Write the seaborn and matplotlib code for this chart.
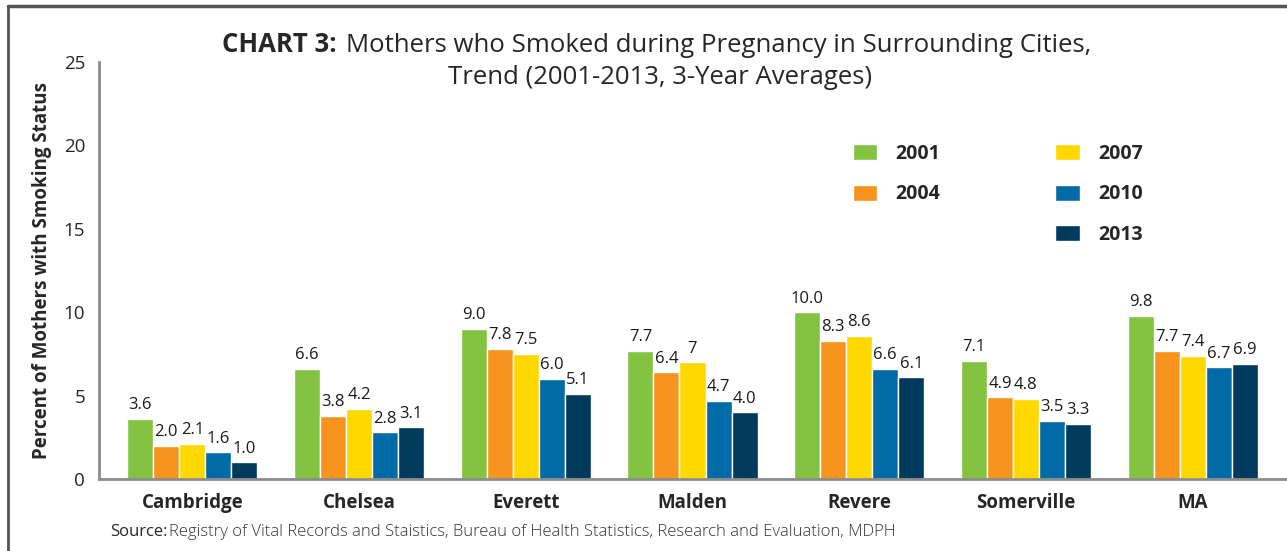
import pandas as pd
import matplotlib.pyplot as plt
import seaborn as sns
from matplotlib.patches import Patch
from matplotlib.lines import Line2D

# Données
cities = ["Cambridge", "Chelsea", "Everett", "Malden", "Revere", "Somerville", "MA"]
years = ["2001", "2004", "2007", "2010", "2013"]
labels_2001 = ["3.6", "6.6", "9.0", "7.7", "10.0", "7.1", "9.8"]
labels_2004 = ["2.0", "3.8", "7.8", "6.4", "8.3", "4.9", "7.7"]
labels_2007 = ["2.1", "4.2", "7.5", "7", "8.6", "4.8", "7.4"]
labels_2010 = ["1.6", "2.8", "6.0", "4.7", "6.6", "3.5", "6.7"]
labels_2013 = ["1.0", "3.1", "5.1", "4.0", "6.1", "3.3", "6.9"]
colors = ["#84C341", "#F7941E", "#FFD800", "#006BA6", "#003A5D"]

series_labels = [labels_2001, labels_2004, labels_2007, labels_2010, labels_2013]
rows = []
for yr, labs in zip(years, series_labels):
    for c, v in zip(cities, labs):
        rows.append({"City": c, "Year": yr, "Value": float(v)})
df = pd.DataFrame(rows)

sns.set_style("white")
plt.rcParams['font.family'] = ['Open Sans', 'DejaVu Sans']

W, H = 1287, 551
fig = plt.figure(figsize=(W / 100, H / 100), dpi=100)
ax = fig.add_axes([99 / W, (H - 479) / H, (1286 - 99) / W, (479 - 62) / H])

sns.barplot(data=df, x="City", y="Value", hue="Year", palette=colors,
            width=0.78, gap=0, saturation=1, ax=ax, legend=True)

for cont, labs in zip(ax.containers, series_labels):
    ax.bar_label(cont, labels=labs, padding=4, fontsize=12, color="#1a1a1a")

ax.set_ylim(0, 25)
ax.set_xlim(-0.56, 6.56)
ax.set_yticks([0, 5, 10, 15, 20, 25])
ax.set_xlabel("")
ax.set_ylabel("Percent of Mothers with Smoking Status", fontsize=13.5,
              fontweight="bold")
ax.yaxis.set_label_coords(-0.040, 0.5)
for s in ["top", "right"]:
    ax.spines[s].set_visible(False)
for s in ["left", "bottom"]:
    ax.spines[s].set_color("#8c8c8c")
    ax.spines[s].set_linewidth(2)
ax.tick_params(axis="y", length=4, width=1.5, color="#8c8c8c", labelsize=13.5, pad=6)
ax.tick_params(axis="x", length=0, labelsize=13.5, pad=10)
for t in ax.get_xticklabels():
    t.set_fontweight("bold")

# Légende sur deux colonnes (case vide pour aligner)
handles, labels = ax.get_legend_handles_labels()
blank = Patch(facecolor="none", edgecolor="none")
handles = handles[:2] + [blank] + handles[2:]
labels = labels[:2] + [""] + labels[2:]
ax.legend(handles, labels, ncol=2, frameon=False, loc="upper left",
          bbox_to_anchor=(853 / W, 1 - 144 / H), bbox_transform=fig.transFigure,
          prop={"weight": "bold", "size": 14}, handlelength=1.25, handleheight=0.9,
          handletextpad=0.95, columnspacing=5.9, labelspacing=1.05,
          borderpad=0, borderaxespad=0)

# Titre
fig.text(222 / W, 1 - 45 / H, "CHART 3:", fontsize=18.5, fontweight="bold",
         ha="left", va="center")
fig.text(346 / W, 1 - 45 / H, "Mothers who Smoked during Pregnancy in Surrounding Cities,",
         fontsize=18.5, ha="left", va="center")
fig.text(660 / W, 1 - 77 / H, "Trend (2001-2013, 3-Year Averages)",
         fontsize=18.5, ha="center", va="center")

# Source
fig.text(110 / W, 1 - 532 / H, "Source:", fontsize=12, ha="left", va="center")
fig.text(169 / W, 1 - 532 / H,
         "Registry of Vital Records and Staistics, Bureau of Health Statistics, Research and Evaluation, MDPH",
         fontsize=12, ha="left", va="center", color="#333333", fontweight="light")

# Cadre
fig.add_artist(Line2D([8 / W, 8 / W], [0, 1 - 6 / H], transform=fig.transFigure,
                      color="#555555", lw=2))
fig.add_artist(Line2D([8 / W, 1], [1 - 6 / H, 1 - 6 / H], transform=fig.transFigure,
                      color="#555555", lw=2.5))

fig.savefig("out.png", dpi=100)
